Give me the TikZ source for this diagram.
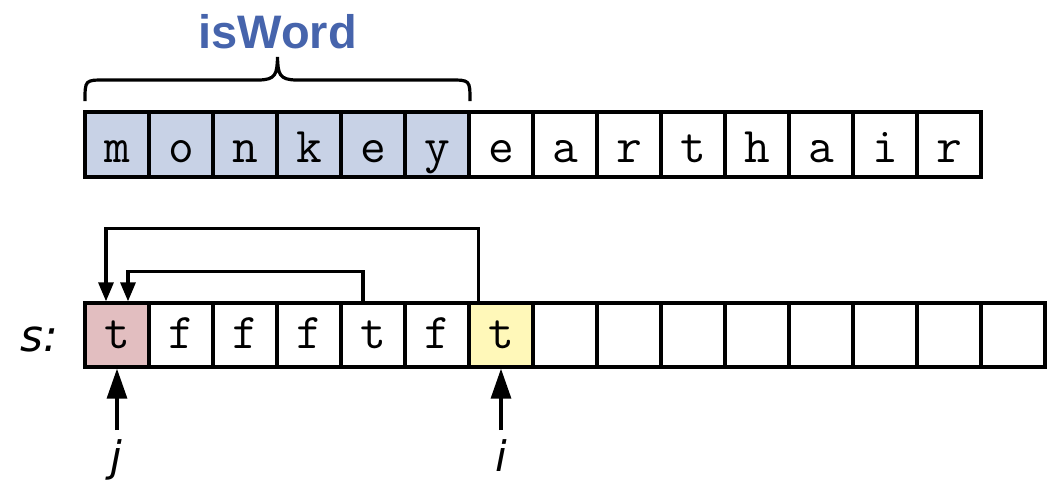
\documentclass[tikz,border=0pt]{standalone}
\usepackage{fontspec}
\usetikzlibrary{arrows.meta,calc}
\newfontfamily\labfont{DejaVu Sans}
\newfontfamily\headfont{Liberation Sans}
\definecolor{cellblue}{RGB}{200,210,230}
\definecolor{cellpink}{RGB}{226,190,192}
\definecolor{cellyellow}{RGB}{255,248,185}
\definecolor{isblue}{RGB}{70,100,172}
\begin{document}
\begin{tikzpicture}[x=1pt,y=-1pt,
  cell/.style={draw, line width=3.3pt, minimum width=64pt, minimum height=65pt,
    inner sep=0pt, font=\ttfamily\fontsize{50}{54}\selectfont, text height=35pt, text depth=0pt},
  scell/.style={cell, minimum height=64pt, text height=27pt},
  conn/.style={line width=3.2pt, -{Triangle[length=19pt,width=15pt]}},
  uparr/.style={line width=3.2pt, -{Triangle[length=30pt,width=20pt]}},
  lab/.style={font=\labfont\itshape\fontsize{42}{46}\selectfont, inner sep=0pt}]
\useasboundingbox (0,0) rectangle (1058,482);
% top row
\foreach \c [count=\k from 0] in {m,o,n,k,e,y}
  \node[cell, fill=cellblue] (t\k) at (117+64*\k,144.5) {\c};
\foreach \c [count=\k from 6] in {e,a,r,t,h,a,i,r}
  \node[cell] (t\k) at (117+64*\k,144.5) {\c};
% brace
\draw[line width=3.2pt] (85,101) .. controls (85,80) and (85,80) .. (105,80) -- (258,80)
  .. controls (276,80) and (277,74) .. (277.5,57)
  .. controls (278,74) and (279,80) .. (297,80) -- (450,80)
  .. controls (470,80) and (470,80) .. (470,101);
\node[font=\headfont\bfseries\fontsize{47}{50}\selectfont, text=isblue, anchor=base, inner sep=0pt] (isw) at (277.5,48) {isWord};
% bottom row
\node[scell, fill=cellpink] (b0) at (117,335) {t};
\foreach \c [count=\k from 1] in {f,f,f,t,f}
  \node[scell] (b\k) at (117+64*\k,335) {\c};
\node[scell, fill=cellyellow] (b6) at (117+64*6,335) {t};
\foreach \k in {7,...,14}
  \node[scell] (b\k) at (117+64*\k,335) {};
\node[lab, anchor=base west, font=\labfont\itshape\fontsize{44}{48}\selectfont] (slab) at (20,351) {s:};
% loop connectors
\draw[conn] ([xshift=11pt]b6.north west) -- ++(0,-73) -| ([xshift=-11pt]b0.north);
\draw[conn] ([xshift=-10pt]b4.north) -- ++(0,-30) -| ([xshift=11pt]b0.north);
% pointers
\node[lab, anchor=base] (jl) at (116,471) {j};
\node[lab, anchor=base] (il) at (501,471) {i};
\coordinate (jt) at (117,430);
\coordinate (it) at (501,430);
\draw[uparr] (jt) -- (b0.south);
\draw[uparr] (it) -- (b6.south);
\end{tikzpicture}
\end{document}
